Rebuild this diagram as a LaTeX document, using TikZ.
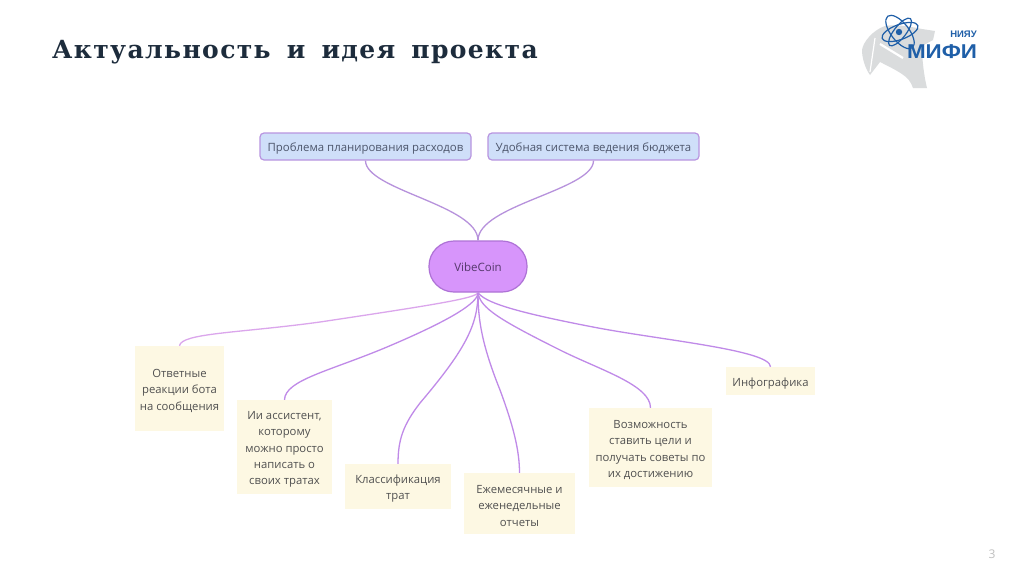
\documentclass[tikz,border=0pt]{standalone}
\usepackage{fontspec}
\setmainfont{Open Sans}
\newfontfamily\titlefont{DejaVu Serif}[LetterSpace=5.5,WordSpace=1.6]
\newfontfamily\logofont{Liberation Sans}
\definecolor{edgec}{HTML}{C08AE8}
\definecolor{edgelight}{HTML}{DBA6EC}
\definecolor{edgetop}{HTML}{B792DC}
\definecolor{topfill}{HTML}{CFDFF9}
\definecolor{topline}{HTML}{B895E0}
\definecolor{mainfill}{HTML}{D795FB}
\definecolor{mainline}{HTML}{AE72D6}
\definecolor{yel}{HTML}{FDF8E3}
\definecolor{txt}{HTML}{505050}
\definecolor{toptxt}{HTML}{4D566C}
\definecolor{maintxt}{HTML}{55386C}
\definecolor{titlec}{HTML}{1D2C3C}
\definecolor{logob}{HTML}{1F5FA8}
\definecolor{horse}{HTML}{DADCDD}
\newcommand{\fl}{\rule{0pt}{13pt}}
\tikzset{
  x=1pt,y=-1pt,
  link/.style={draw=edgec,line width=1.3pt},
  topbox/.style={draw=topline,fill=topfill,line width=1.2pt,rounded corners=4pt,inner sep=0pt,font=\fontsize{11.4}{14}\selectfont,text=toptxt},
  mainbox/.style={draw=mainline,fill=mainfill,line width=1.2pt,rounded corners=25pt,inner sep=0pt,font=\fontsize{11.5}{14}\selectfont,text=maintxt},
  leaf/.style={fill=yel,inner sep=0pt,align=center,font=\fontsize{11.3}{16.2}\selectfont,text=txt},
}
\begin{document}
\begin{tikzpicture}
\useasboundingbox (0,0) rectangle (1024,574);
\fill[white] (0,0) rectangle (1024,574);
% title
\node[anchor=base west,inner sep=0pt,font=\titlefont\bfseries\fontsize{25}{30}\selectfont,text=titlec] (title) at (52,58) {Актуальность и идея проекта};
% logo
\fill[horse] (885,26) .. controls (898,24) and (912,27) .. (922,29) -- (935,31) -- (933,40) -- (922,46) .. controls (922,60) and (924,76) .. (927,88) -- (913,88) .. controls (911,82) and (908,78) .. (902,74) .. controls (896,70) and (888,66) .. (880,62) -- (870,75) .. controls (865,68) and (862,58) .. (862,50) .. controls (863,42) and (873,30) .. (885,26) -- cycle;
\draw[white,line width=1.2pt] (875,38) -- (870,72);
\draw[white,line width=2.2pt] (880,44) -- (903,58);
\begin{scope}[draw=logob,line width=1.2pt]
\draw[rotate around={-52:(900,32)}] (900,32) ellipse (20 and 9);
\draw[rotate around={20:(900,32)}] (900,32) ellipse (19 and 7.5);
\draw[rotate around={52:(900,32)}] (900,32) ellipse (17 and 6);
\end{scope}
\fill[logob] (899,32) circle (3.2);
\node[inner sep=0pt,font=\logofont\bfseries\fontsize{9.5}{10}\selectfont,text=logob] (niyau) at (963.5,34) {НИЯУ};
\node[inner sep=0pt,font=\logofont\bfseries\fontsize{20}{20}\selectfont,text=logob] (mifi) at (942,52) {\scalebox{1.12}[1]{МИФИ}};
% boxes
\node[topbox,minimum width=211pt,minimum height=27pt] (p1) at (365.5,146.5) {\fl Проблема планирования расходов};
\node[topbox,minimum width=211pt,minimum height=27pt] (p2) at (593.5,146.5) {\fl Удобная система ведения бюджета};
\node[mainbox,minimum width=98pt,minimum height=51pt] (vc) at (478,266.5) {\rule{0pt}{11pt}VibeCoin};
\node[leaf,minimum width=89pt,minimum height=85pt] (a) at (179.5,388.5) {\fl Ответные\\реакции бота\\на сообщения};
\node[leaf,minimum width=95pt,minimum height=94pt] (b) at (284.5,447) {\fl Ии ассистент,\\которому\\можно просто\\написать о\\своих тратах};
\node[leaf,minimum width=106pt,minimum height=45pt] (c) at (398,486.5) {\fl Классификация\\трат};
\node[leaf,minimum width=111pt,minimum height=61pt] (d) at (519.5,503.5) {\fl Ежемесячные и\\еженедельные\\отчеты};
\node[leaf,minimum width=123pt,minimum height=79pt] (e) at (650.5,447.5) {\fl Возможность\\ставить цели и\\получать советы по\\их достижению};
\node[leaf,minimum width=89pt,minimum height=28pt] (f) at (770.5,381) {\fl Инфографика};
% links
\draw[link,draw=edgetop] (p1.south) .. controls (365.5,190) and (478,205) .. (vc.north);
\draw[link,draw=edgetop] (p2.south) .. controls (593.5,190) and (478,205) .. (vc.north);
\draw[link,draw=edgelight] (vc.south) .. controls (476,298) and (440,304) .. (320,322) .. controls (240,333) and (181,333) .. (a.north);
\draw[link] (vc.south) .. controls (478,300) and (465,314) .. (387,347) .. controls (330,371) and (285,380) .. (b.north);
\draw[link] (vc.south) .. controls (478,325) and (465,350) .. (420,403) .. controls (403,425) and (398,440) .. (c.north);
\draw[link] (vc.south) .. controls (478,320) and (482,345) .. (500,390) .. controls (513,425) and (519.5,450) .. (d.north);
\draw[link] (vc.south) .. controls (480,308) and (500,320) .. (560,350) .. controls (600,370) and (650.5,385) .. (e.north);
\draw[link] (vc.south) .. controls (485,302) and (510,311) .. (593,327) .. controls (660,340) and (770.5,350) .. (f.north);
% page number
\node[inner sep=0pt,font=\fontsize{12}{14}\selectfont,text=black!25] (pg) at (992,554) {3};
\end{tikzpicture}
\end{document}
